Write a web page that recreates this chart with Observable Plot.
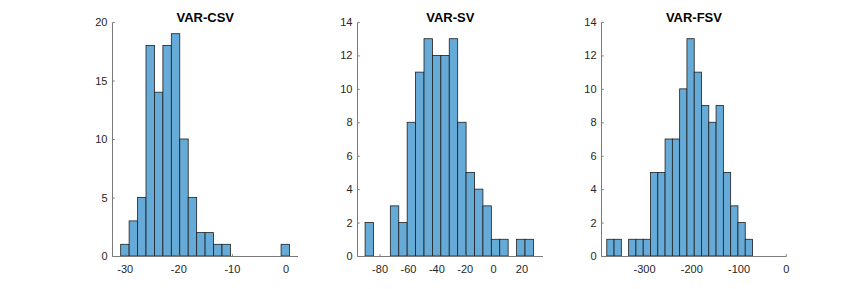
<!DOCTYPE html>
<html>
<head>
<meta charset="utf-8">
<script src="https://cdn.jsdelivr.net/npm/d3@7"></script>
<script src="https://cdn.jsdelivr.net/npm/@observablehq/plot@0.6"></script>
<style>
  html, body { margin: 0; padding: 0; background: #fff; }
  #chart { position: relative; width: 868px; height: 289px; font-family: "Liberation Sans", Arial, sans-serif; }
  #chart svg { position: absolute; top: 0; overflow: visible; }
</style>
</head>
<body>
<div id="chart"></div>
<script>
// ---- data ----
const titles = ["VAR-CSV", "VAR-SV", "VAR-FSV"];

// histogram bin definitions (uniform bins: first edge, bin width)
const csvBinStart = -30.75, csvBinWidth = 1.575;
const svBinStart = -90.2, svBinWidth = 5.93;
const fsvBinStart = -378.8, fsvBinWidth = 15.42;

// counts per bin (20 bins each)
const csvCounts = [1, 3, 5, 18, 14, 18, 19, 10, 5, 2, 2, 1, 1, 0, 0, 0, 0, 0, 0, 1];
const svCounts  = [2, 0, 0, 3, 2, 8, 11, 13, 12, 12, 13, 8, 5, 4, 3, 1, 1, 0, 1, 1];
const fsvCounts = [1, 1, 0, 1, 1, 1, 5, 5, 7, 7, 10, 13, 11, 9, 8, 9, 5, 3, 2, 1];

// axis ticks
const csvXTicks = [-30, -20, -10, 0];
const svXTicks  = [-80, -60, -40, -20, 0, 20];
const fsvXTicks = [-300, -200, -100, 0];
const csvYTicks = [0, 5, 10, 15, 20];
const svYTicks  = [0, 2, 4, 6, 8, 10, 12, 14];
const fsvYTicks = [0, 2, 4, 6, 8, 10, 12, 14];

// axis limits
const csvXDomain = [-32.37, 2.24], csvYDomain = [0, 20];
const svXDomain  = [-95.9, 34.8],  svYDomain  = [0, 14];
const fsvXDomain = [-391, 0],      fsvYDomain = [0, 14];

// ---- drawing ----
const panels = [
  {title: titles[0], start: csvBinStart, width: csvBinWidth, counts: csvCounts, xt: csvXTicks, yt: csvYTicks, xd: csvXDomain, yd: csvYDomain, plotLeft: 112, plotWidth: 185.5},
  {title: titles[1], start: svBinStart,  width: svBinWidth,  counts: svCounts,  xt: svXTicks,  yt: svYTicks,  xd: svXDomain,  yd: svYDomain,  plotLeft: 356.5, plotWidth: 185.5},
  {title: titles[2], start: fsvBinStart, width: fsvBinWidth, counts: fsvCounts, xt: fsvXTicks, yt: fsvYTicks, xd: fsvXDomain, yd: fsvYDomain, plotLeft: 601,   plotWidth: 184.8}
];

const mL = 40, mR = 12, mT = 22, mB = 33;
const axisColor = "#7a7a7a";
const textColor = "#262626";
const container = document.getElementById("chart");

for (const p of panels) {
  const bins = p.counts.map((c, i) => ({x1: p.start + i * p.width, x2: p.start + (i + 1) * p.width, y: c}));
  const x0 = p.xd[0], x1 = p.xd[1], ytop = p.yd[1];
  const axes = [
    {x1: x0, y1: 0, x2: x0, y2: ytop},
    {x1: x0, y1: 0, x2: x1, y2: 0}
  ];
  const tickLenX = (x1 - x0) * 0.012;
  const tickLenY = ytop * 0.01;
  const yTickSegs = p.yt.map(v => ({x1: x0, y1: v, x2: x0 + tickLenX, y2: v}));
  const xTickSegs = p.xt.map(v => ({x1: v, y1: 0, x2: v, y2: tickLenY}));
  const svg = Plot.plot({
    width: p.plotWidth + mL + mR,
    height: 289,
    marginLeft: mL, marginRight: mR, marginTop: mT, marginBottom: mB,
    style: {fontFamily: "'Liberation Sans', Arial, sans-serif", fontSize: "11px", color: textColor, background: "transparent", overflow: "visible"},
    x: {domain: p.xd},
    y: {domain: p.yd},
    marks: [
      Plot.rectY(bins, {x1: "x1", x2: "x2", y: "y", fill: "#66AAD7", stroke: "#1f1f1f", strokeWidth: 0.8}),
      Plot.link(axes, {x1: "x1", y1: "y1", x2: "x2", y2: "y2", stroke: axisColor, strokeWidth: 1}),
      Plot.link(yTickSegs, {x1: "x1", y1: "y1", x2: "x2", y2: "y2", stroke: axisColor, strokeWidth: 1}),
      Plot.link(xTickSegs, {x1: "x1", y1: "y1", x2: "x2", y2: "y2", stroke: axisColor, strokeWidth: 1}),
      Plot.axisX({ticks: p.xt, tickFormat: d => String(d), tickSize: 0, tickPadding: 9, fontSize: 11, label: null}),
      Plot.axisY({ticks: p.yt, tickFormat: d => String(d), tickSize: 0, tickPadding: 5, fontSize: 11, label: null}),
      Plot.text([p.title], {frameAnchor: "top", dy: -10, fontWeight: "bold", fontSize: 13, fill: "#000"})
    ]
  });
  svg.style.left = (p.plotLeft - mL) + "px";
  container.appendChild(svg);
}
</script>
</body>
</html>
